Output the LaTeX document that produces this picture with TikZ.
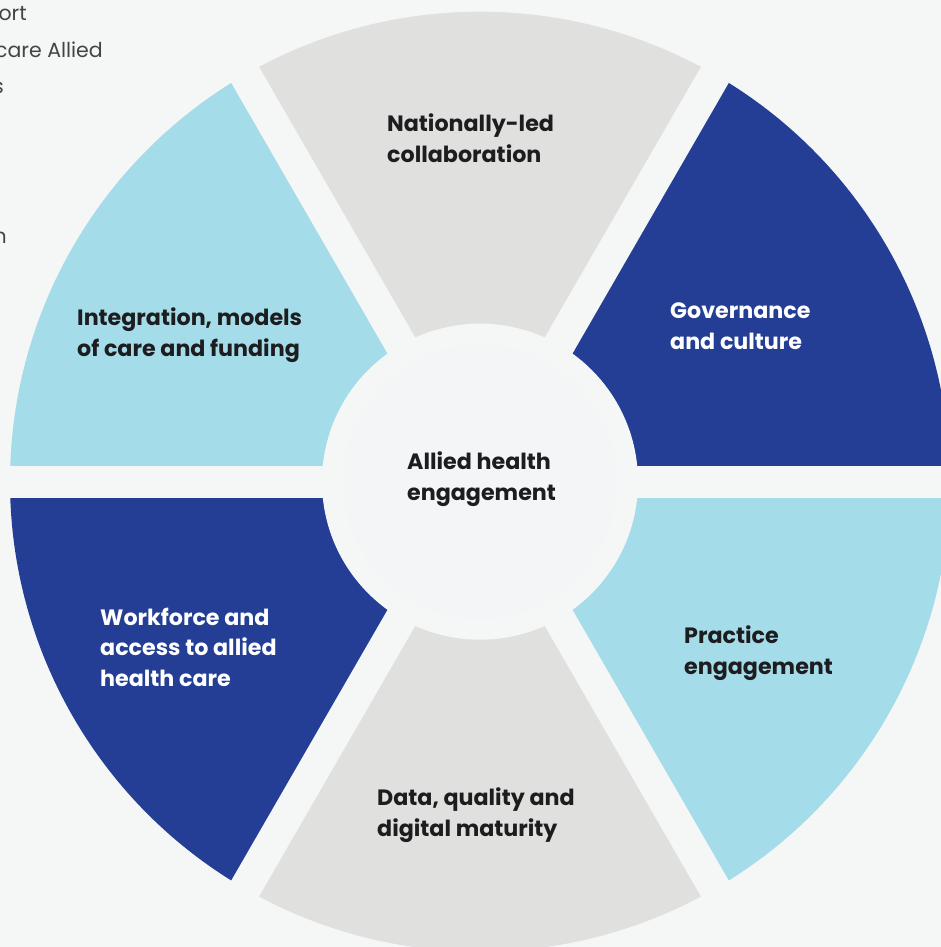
\documentclass[tikz,border=0pt]{standalone}
\usepackage{fontspec}
\setmainfont{Poppins}
\usepackage{tikz}
\usetikzlibrary{positioning}
\definecolor{bgGrey}{HTML}{F5F6F6}
\definecolor{hubWhite}{HTML}{F3F5F7}
\definecolor{deepBlue}{HTML}{233E94}
\definecolor{skyBlue}{HTML}{A5DCE9}
\definecolor{stoneGrey}{HTML}{E0E1DE}
\definecolor{inkBlack}{HTML}{1D1D1F}
\definecolor{sideText}{HTML}{444444}
\tikzstyle{darkLabel} = [anchor=west, align=left, inner sep=0pt, text=inkBlack, font=\fontsize{22.2}{30.5}\selectfont\bfseries]
\tikzstyle{lightLabel} = [darkLabel, text=white]
\tikzstyle{sideLabel} = [anchor=east, inner sep=0pt, text=sideText, font=\fontsize{20.5}{24}\selectfont]
\tikzstyle{gapBand} = [line width=32pt, bgGrey]

\begin{document}
\begin{tikzpicture}[x=1pt, y=1pt]
                    \useasboundingbox (0,0) rectangle (941,947);
                    \clip (0,0) rectangle (941,947);
                    \fill[bgGrey] (0,0) rectangle (941,947);
                    \coordinate (hub) at (480,465.3);
                    % text fragments of the page behind
                    \node (frag1) [sideLabel] at (27,933) {ort};
                    \node (frag2) [sideLabel] at (103,897) {care Allied};
                    \node (frag3) [sideLabel] at (4,859) {s};
                    \node (frag4) [sideLabel] at (7,709) {n};
                    % the six sectors
                    \fill[deepBlue] (hub) -- ++(0:470) arc[start angle=0, end angle=60, radius=470] -- cycle;
                    \fill[stoneGrey] (hub) -- ++(60:470) arc[start angle=60, end angle=120, radius=470] -- cycle;
                    \fill[skyBlue] (hub) -- ++(120:470) arc[start angle=120, end angle=180, radius=470] -- cycle;
                    \fill[deepBlue] (hub) -- ++(180:470) arc[start angle=180, end angle=240, radius=470] -- cycle;
                    \fill[stoneGrey] (hub) -- ++(240:470) arc[start angle=240, end angle=300, radius=470] -- cycle;
                    \fill[skyBlue] (hub) -- ++(300:470) arc[start angle=300, end angle=360, radius=470] -- cycle;
                    \foreach \a in {0,60,120}
                        \draw [gapBand] (hub) ++(\a:500) -- ++(\a+180:1000);
                    \fill[bgGrey] (hub) circle[radius=158];
                    \fill[hubWhite] (hub) circle[radius=137];
                    % labels
                    \node (centre) [darkLabel] at (407,468) {Allied health\\engagement};
                    \node (national) [darkLabel] at (387,809) {Nationally-led\\collaboration};
                    \node (governance) [lightLabel] at (670,621) {Governance\\and culture};
                    \node (practice) [darkLabel] at (684,294) {Practice\\engagement};
                    \node (data) [darkLabel] at (377,132) {Data, quality and\\digital maturity};
                    \node (workforce) [lightLabel] at (100,300) {Workforce and\\access to allied\\health care};
                    \node (integration) [darkLabel] at (77,612) {Integration, models\\of care and funding};
                \end{tikzpicture}
\end{document}
